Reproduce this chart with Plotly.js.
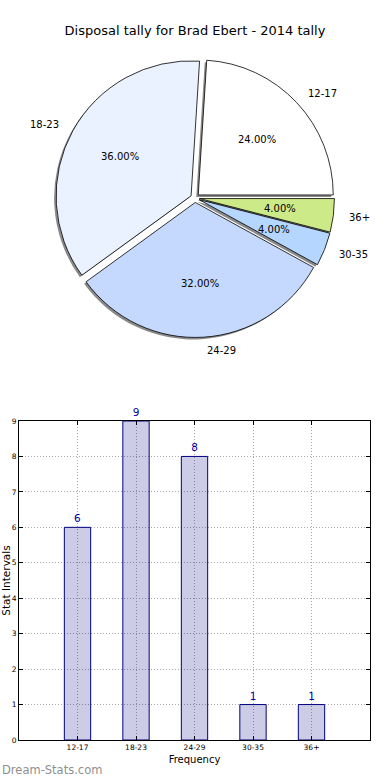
<!DOCTYPE html>
<html><head><meta charset="utf-8">
<script src="https://cdn.plot.ly/plotly-3.0.1.min.js"></script>
<style>html,body{margin:0;padding:0;background:#fff}#chart{width:390px;height:780px}</style>
</head><body><div id="chart"></div>
<script>
// ---- data ----
const categories = ['12-17', '18-23', '24-29', '30-35', '36+'];
const counts = [6, 9, 8, 1, 1];
const pieColors = ['#ffffff', '#eaf1ff', '#c5d9ff', '#b4d6ff', '#cdea88'];
const pullFrac = [0.033, 0.033, 0.033, 0.033, 0.033];
const chartTitle = 'Disposal tally for Brad Ebert - 2014 tally';

// ---- layout constants (pixels) ----
const W = 390, H = 780;
const cx = 195, cy = 198, R = 135;
const px2x = p => p / W, px2y = p => 1 - p / H;
const maxPull = Math.max(...pullFrac);
const half = R * (1 + maxPull);
const sh = 2;
const pieDomain = {x: [px2x(cx - half), px2x(cx + half)], y: [px2y(cy + half), px2y(cy - half)]};
const shadowDomain = {x: [px2x(cx - half - sh), px2x(cx + half - sh)], y: [px2y(cy + half + sh), px2y(cy - half + sh)]};

const FONT = 'DejaVu Sans, Verdana, sans-serif';
const total = counts.reduce((a, b) => a + b, 0);
// Plotly (counterclockwise) puts the first slice clockwise of `rotation`;
// shift so the first slice starts at 3 o'clock and runs counterclockwise.
const rot = 90 - 360 * counts[0] / total;

const shadow = {
  type: 'pie', values: counts, labels: categories, sort: false,
  direction: 'counterclockwise', rotation: rot, pull: pullFrac,
  domain: shadowDomain, textinfo: 'none', hoverinfo: 'skip',
  marker: {colors: categories.map(() => '#8a8a8a'), line: {width: 0}},
  showlegend: false
};
const pie = {
  type: 'pie', values: counts, labels: categories, sort: false,
  direction: 'counterclockwise', rotation: rot, pull: pullFrac,
  domain: pieDomain, textinfo: 'none',
  marker: {colors: pieColors, line: {color: '#000000', width: 0.8}},
  showlegend: false
};
const bar = {
  type: 'bar', x: categories, y: counts, xaxis: 'x', yaxis: 'y',
  width: 0.45,
  marker: {color: 'rgba(0,0,128,0.2)', line: {color: '#000080', width: 1}},
  text: counts.map(String), textposition: 'outside', cliponaxis: false,
  textfont: {color: '#0000a0', size: 10.5, family: FONT},
  hoverinfo: 'x+y', showlegend: false
};

// pie labels computed from the data (matplotlib-like: labels at 1.1R, pct at 0.6R)
const annotations = [];
let start = 0;
counts.forEach((v, i) => {
  const frac = v / total;
  const mid = (start + frac * 180) * Math.PI / 180;
  start += frac * 360;
  const c = Math.cos(mid), s = Math.sin(mid);
  const pcx = cx + pullFrac[i] * R * c, pcy = cy - pullFrac[i] * R * s;
  annotations.push({
    xref: 'paper', yref: 'paper', showarrow: false,
    x: px2x(pcx + 1.1 * R * c), y: px2y(pcy - 1.1 * R * s),
    xanchor: c > 0 ? 'left' : 'right', yanchor: 'middle',
    text: categories[i], font: {family: FONT, size: 10, color: '#000'}
  });
  annotations.push({
    xref: 'paper', yref: 'paper', showarrow: false,
    x: px2x(pcx + 0.6 * R * c), y: px2y(pcy - 0.6 * R * s),
    xanchor: 'center', yanchor: 'middle',
    text: (frac * 100).toFixed(2) + '%', font: {family: FONT, size: 10, color: '#000'}
  });
});
annotations.push({
  xref: 'paper', yref: 'paper', showarrow: false,
  x: 0, y: px2y(770), xanchor: 'left', yanchor: 'middle',
  text: 'Dream-Stats.com', font: {family: FONT, size: 11.5, color: '#8f8f8f'}
});

const axisCommon = {
  showgrid: true, gridcolor: '#a8a8a8', griddash: '1px,2px', gridwidth: 1,
  ticks: 'inside', ticklen: 4, tickcolor: '#000', mirror: 'ticks',
  showline: true, linecolor: '#000', linewidth: 1, zeroline: false,
  tickfont: {family: FONT, size: 7.5, color: '#000'}
};

const layout = {
  width: W, height: H,
  margin: {l: 0, r: 0, t: 0, b: 0},
  paper_bgcolor: '#fff', plot_bgcolor: '#fff',
  font: {family: FONT, color: '#000'},
  title: {text: chartTitle, x: 0.5, xanchor: 'center', y: px2y(30), yanchor: 'middle',
          font: {family: FONT, size: 13, color: '#000'}},
  xaxis: Object.assign({}, axisCommon, {
    domain: [px2x(19), px2x(370)], type: 'category', range: [-1, 5],
    title: {text: 'Frequency', font: {family: FONT, size: 10}, standoff: 4}
  }),
  yaxis: Object.assign({}, axisCommon, {
    domain: [px2y(740), px2y(421)], range: [0, 9], dtick: 1, tick0: 0,
    title: {text: 'Stat Intervals', font: {family: FONT, size: 10.5}, standoff: 2}
  }),
  annotations: annotations,
  showlegend: false
};

Plotly.newPlot('chart', [shadow, pie, bar], layout, {displayModeBar: false, staticPlot: true});
</script>
</body></html>
